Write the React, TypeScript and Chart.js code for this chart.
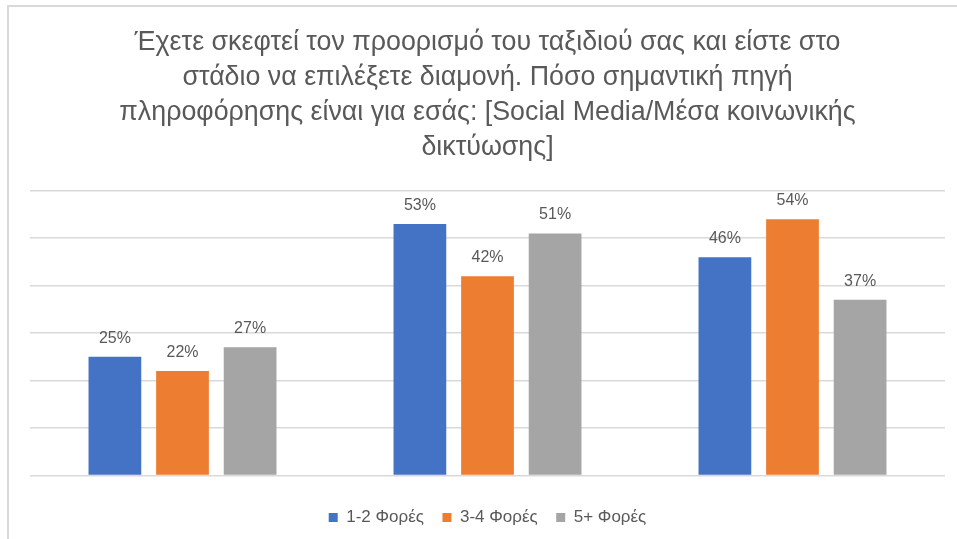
import React, { useEffect, useRef } from "react";
import { Chart, registerables } from "chart.js";

Chart.register(...registerables);

const titleLines = [
  "Έχετε σκεφτεί τον προορισμό του ταξιδιού σας και είστε στο",
  "στάδιο να επιλέξετε διαμονή. Πόσο σημαντική πηγή",
  "πληροφόρησης είναι για εσάς: [Social Media/Μέσα κοινωνικής",
  "δικτύωσης]",
];
const categories = ["", "", ""];
const seriesNames = ["1-2 Φορές", "3-4 Φορές", "5+ Φορές"];
const series1 = [25, 53, 46];
const series2 = [22, 42, 54];
const series3 = [27, 51, 37];
const colors = ["#4472C4", "#ED7D31", "#A5A5A5"];
const yMax = 60;
const yStep = 10;

const FONT = "'Liberation Sans', Arial, sans-serif";

const dataLabels = {
  id: "dataLabels",
  afterDatasetsDraw(chart: any) {
    const ctx = chart.ctx;
    ctx.save();
    ctx.font = `16px ${FONT}`;
    ctx.fillStyle = "#595959";
    ctx.textAlign = "center";
    ctx.textBaseline = "alphabetic";
    chart.data.datasets.forEach((ds: any, i: number) => {
      const meta = chart.getDatasetMeta(i);
      meta.data.forEach((el: any, j: number) => {
        ctx.fillText(`${ds.data[j]}%`, el.x, el.y - 14);
      });
    });
    ctx.restore();
  },
};

export default function App() {
  const ref = useRef<HTMLCanvasElement>(null);
  useEffect(() => {
    if (!ref.current) return;
    const data = [series1, series2, series3];
    const chart = new Chart(ref.current, {
      type: "bar",
      data: {
        labels: categories,
        datasets: seriesNames.map((n, i) => ({
          label: n,
          data: data[i],
          backgroundColor: colors[i],
          borderWidth: 0,
          categoryPercentage: 0.665,
          barPercentage: 0.78,
        })),
      },
      options: {
        animation: false,
        responsive: false,
        maintainAspectRatio: false,
        layout: { padding: { left: 30, right: 12, top: 0, bottom: 3 } },
        scales: {
          x: {
            ticks: { display: false },
            grid: { display: false, drawTicks: false },
            border: { display: false },
            afterFit: (axis: any) => {
              axis.height = 15;
            },
          },
          y: {
            min: 0,
            max: yMax,
            ticks: { display: false, stepSize: yStep },
            grid: { color: "#D9D9D9", lineWidth: 1.5, drawTicks: false },
            border: { display: false },
          },
        },
        plugins: {
          title: {
            display: true,
            text: titleLines,
            color: "#595959",
            font: { family: FONT, size: 26.8, weight: "normal", lineHeight: 1.317 },
            padding: { top: 24.5, bottom: 25 },
          },
          legend: {
            position: "bottom",
            labels: {
              color: "#595959",
              font: { family: FONT, size: 17 },
              boxWidth: 9,
              boxHeight: 9,
              padding: 18.5,
            },
          },
          tooltip: { enabled: false },
        },
      },
      plugins: [dataLabels],
    });
    return () => chart.destroy();
  }, []);
  return (
    <div style={{ position: "absolute", left: 0, top: 0, width: 957, height: 539, overflow: "hidden", background: "#fff" }}>
      <div style={{ position: "absolute", left: 7, top: 5, width: 1000, height: 1000, border: "2px solid #D9D9D9" }} />
      <canvas ref={ref} width={957} height={539} style={{ position: "absolute", left: 0, top: 0 }} />
    </div>
  );
}
